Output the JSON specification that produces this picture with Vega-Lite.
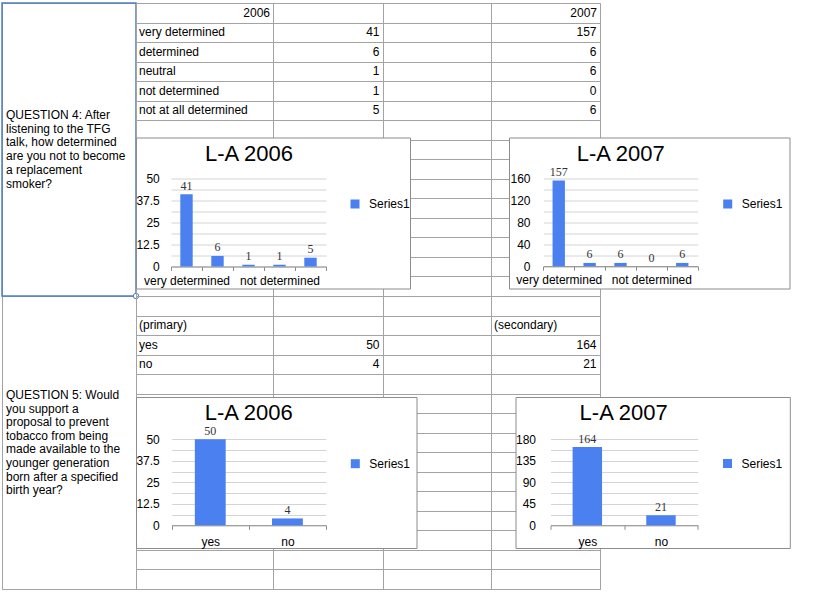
{
  "$schema": "https://vega.github.io/schema/vega-lite/v6.json",
  "padding": {"left": 0, "top": 1, "right": 0, "bottom": 0},
  "background": "white",
  "config": {
    "font": "Liberation Sans",
    "view": {"stroke": "#a3a3a3", "strokeWidth": 1},
    "axis": {"labelFont": "Liberation Sans"},
    "legend": {"labelFont": "Liberation Sans"},
    "text": {"font": "Liberation Sans", "fontSize": 12, "color": "black"}
  },
  "datasets": {
    "survey": [
      {"question": "Q4", "answer": "very determined", "v2006": 41, "v2007": 157},
      {"question": "Q4", "answer": "determined", "v2006": 6, "v2007": 6},
      {"question": "Q4", "answer": "neutral", "v2006": 1, "v2007": 6},
      {"question": "Q4", "answer": "not determined", "v2006": 1, "v2007": 0},
      {"question": "Q4", "answer": "not at all determined", "v2006": 5, "v2007": 6},
      {"question": "Q5", "answer": "yes", "v2006": 50, "v2007": 164},
      {"question": "Q5", "answer": "no", "v2006": 4, "v2007": 21}
    ],
    "headers": [
      {"answer": "hdr4", "B": "2006", "E": "2007"},
      {"answer": "hdr5", "B": "(primary)", "E": "(secondary)"}
    ],
    "questions": [
      {"cell": "Q4", "text": "QUESTION 4: After\nlistening to the TFG\ntalk, how determined\nare you not to become\na replacement\nsmoker?"},
      {"cell": "Q5", "text": "QUESTION 5: Would\nyou support a\nproposal to prevent\ntobacco from being\nmade available to the\nyounger generation\nborn after a specified\nbirth year?"}
    ]
  },
  "bounds": "flush",
  "spacing": 0,
  "resolve": {"scale": {"color": "independent"}, "legend": {"color": "independent"}},
  "hconcat": [
    {
      "width": 134,
      "height": 586,
      "data": {"name": "questions"},
      "encoding": {
        "y": {"field": "cell", "type": "nominal", "sort": null,
          "scale": {"domain": ["Q4", "Q5"], "paddingInner": 0, "paddingOuter": 0},
          "axis": {"title": null, "grid": true, "tickBand": "extent", "labels": false, "ticks": false, "domain": false, "gridColor": "#a3a3a3"}}
      },
      "layer": [
        {
          "transform": [{"filter": "datum.cell == 'Q4'"}],
          "mark": {"type": "text", "align": "left", "baseline": "middle", "lineBreak": "\n", "lineHeight": 13.7, "fontSize": 12, "dx": 4, "dy": -34.5, "color": "black"},
          "encoding": {"x": {"value": 0}, "text": {"field": "text", "type": "nominal"}}
        },
        {
          "transform": [{"filter": "datum.cell == 'Q5'"}],
          "mark": {"type": "text", "align": "left", "baseline": "middle", "lineBreak": "\n", "lineHeight": 13.6, "fontSize": 12, "dx": 4, "dy": -47.5, "color": "black"},
          "encoding": {"x": {"value": 0}, "text": {"field": "text", "type": "nominal"}}
        },
        {
          "transform": [{"filter": "datum.cell == 'Q4'"}],
          "mark": {"type": "rect", "fill": "transparent", "stroke": "#4f7fc4", "strokeWidth": 1.5},
          "encoding": {"x": {"value": 0}, "x2": {"value": "width"}}
        },
        {
          "transform": [{"filter": "datum.cell == 'Q4'"}],
          "mark": {"type": "point", "shape": "circle", "filled": true, "fill": "white", "stroke": "#4f7fc4", "strokeWidth": 1, "size": 30, "opacity": 1},
          "encoding": {"x": {"value": "width"}, "y": {"field": "cell", "type": "nominal", "bandPosition": 1}}
        }
      ]
    },
    {
      "bounds": "flush",
      "spacing": 134.5,
      "resolve": {"scale": {"color": "independent"}, "legend": {"color": "independent"}},
      "vconcat": [
        {
          "bounds": "flush",
          "spacing": 0,
          "hconcat": [
            {
              "width": 137,
              "height": 586,
              "encoding": {
                "y": {"field": "answer", "type": "nominal", "sort": null,
                  "scale": {"domain": ["hdr4","very determined","determined","neutral","not determined","not at all determined","r7","r8","r9","r10","r11","r12","r13","r14","r15","r16","hdr5","yes","no","r20","r21","r22","r23","r24","r25","r26","r27","r28","r29","r30"], "paddingInner": 0, "paddingOuter": 0},
                  "axis": {"title": null, "grid": true, "tickBand": "extent", "labels": false, "ticks": false, "domain": false, "gridColor": "#a3a3a3"}}
              },
              "layer": [
                {
                  "data": {"name": "survey"},
                  "mark": {"type": "text", "align": "left", "baseline": "middle", "dx": 3},
                  "encoding": {"x": {"value": 0}, "text": {"field": "answer", "type": "nominal"}}
                },
                {
                  "data": {"name": "headers"},
                  "transform": [{"filter": "datum.answer == 'hdr4'"}],
                  "mark": {"type": "text", "align": "right", "baseline": "middle", "dx": -3},
                  "encoding": {"x": {"value": "width"}, "text": {"field": "B", "type": "nominal"}}
                },
                {
                  "data": {"name": "headers"},
                  "transform": [{"filter": "datum.answer == 'hdr5'"}],
                  "mark": {"type": "text", "align": "left", "baseline": "middle", "dx": 3},
                  "encoding": {"x": {"value": 0}, "text": {"field": "B", "type": "nominal"}}
                }
              ]
            },
            {
              "width": 110,
              "height": 586,
              "data": {"name": "survey"},
              "mark": {"type": "text", "align": "right", "baseline": "middle", "dx": -3.5},
              "encoding": {
                "y": {"field": "answer", "type": "nominal", "sort": null,
                  "scale": {"domain": ["hdr4","very determined","determined","neutral","not determined","not at all determined","r7","r8","r9","r10","r11","r12","r13","r14","r15","r16","hdr5","yes","no","r20","r21","r22","r23","r24","r25","r26","r27","r28","r29","r30"], "paddingInner": 0, "paddingOuter": 0},
                  "axis": {"title": null, "grid": true, "tickBand": "extent", "labels": false, "ticks": false, "domain": false, "gridColor": "#a3a3a3"}},
                "x": {"value": "width"},
                "text": {"field": "v2006", "type": "quantitative", "format": "d"}
              }
            },
            {
              "width": 108,
              "height": 586,
              "data": {"name": "headers"},
              "mark": {"type": "text", "baseline": "middle"},
              "encoding": {
                "y": {"field": "answer", "type": "nominal", "sort": null,
                  "scale": {"domain": ["hdr4","very determined","determined","neutral","not determined","not at all determined","r7","r8","r9","r10","r11","r12","r13","r14","r15","r16","hdr5","yes","no","r20","r21","r22","r23","r24","r25","r26","r27","r28","r29","r30"], "paddingInner": 0, "paddingOuter": 0},
                  "axis": {"title": null, "grid": true, "tickBand": "extent", "labels": false, "ticks": false, "domain": false, "gridColor": "#a3a3a3"}},
                "text": {"value": ""}
              }
            },
            {
              "width": 109,
              "height": 586,
              "encoding": {
                "y": {"field": "answer", "type": "nominal", "sort": null,
                  "scale": {"domain": ["hdr4","very determined","determined","neutral","not determined","not at all determined","r7","r8","r9","r10","r11","r12","r13","r14","r15","r16","hdr5","yes","no","r20","r21","r22","r23","r24","r25","r26","r27","r28","r29","r30"], "paddingInner": 0, "paddingOuter": 0},
                  "axis": {"title": null, "grid": true, "tickBand": "extent", "labels": false, "ticks": false, "domain": false, "gridColor": "#a3a3a3"}}
              },
              "layer": [
                {
                  "data": {"name": "survey"},
                  "mark": {"type": "text", "align": "right", "baseline": "middle", "dx": -3.5},
                  "encoding": {"x": {"value": "width"}, "text": {"field": "v2007", "type": "quantitative", "format": "d"}}
                },
                {
                  "data": {"name": "headers"},
                  "transform": [{"filter": "datum.answer == 'hdr4'"}],
                  "mark": {"type": "text", "align": "right", "baseline": "middle", "dx": -3},
                  "encoding": {"x": {"value": "width"}, "text": {"field": "E", "type": "nominal"}}
                },
                {
                  "data": {"name": "headers"},
                  "transform": [{"filter": "datum.answer == 'hdr5'"}],
                  "mark": {"type": "text", "align": "left", "baseline": "middle", "dx": 3},
                  "encoding": {"x": {"value": 0}, "text": {"field": "E", "type": "nominal"}}
                }
              ]
            }
          ]
        },
        {
          "bounds": "flush",
          "spacing": 259.5,
          "resolve": {"scale": {"color": "independent"}, "legend": {"color": "independent"}},
          "vconcat": [
            {
              "bounds": "flush",
              "spacing": 99,
              "resolve": {"scale": {"color": "independent"}, "legend": {"color": "independent"}},
              "hconcat": [
                {
                  "width": 274,
                  "height": 151,
                  "view": {"stroke": "#8c8c8c", "strokeWidth": 1, "fill": "white"},
                  "title": {"text": "L-A 2006", "font": "Liberation Sans", "fontSize": 22, "fontWeight": "normal", "color": "black", "anchor": "middle", "frame": "group", "baseline": "alphabetic", "offset": -45, "dx": -24},
                  "data": {"name": "survey"},
                  "transform": [{"filter": "datum.question == 'Q4'"}],
                  "encoding": {
                    "x": {"field": "answer", "type": "nominal", "sort": null,
                      "scale": {"domain": ["very determined","determined","neutral","not determined","not at all determined"], "range": [35, 190], "paddingInner": 0, "paddingOuter": 0},
                      "axis": {"title": null, "orient": "bottom", "offset": -22, "domain": true, "domainColor": "#8c8c8c", "ticks": true, "tickBand": "extent", "tickSize": 4, "tickColor": "#8c8c8c", "grid": false, "labelAngle": 0, "labelPadding": 4.5, "labelOverlap": false, "labelBound": false, "labelFontSize": 12, "labelColor": "black",
                        "labelExpr": "datum.value == 'very determined' || datum.value == 'not determined' ? datum.value : ''"}},
                    "y": {"field": "v2006", "type": "quantitative",
                      "scale": {"domain": [0, 50], "range": [129, 41], "nice": false, "zero": false},
                      "axis": {"title": null, "values": [0, 6.25, 12.5, 18.75, 25, 31.25, 37.5, 43.75, 50], "grid": true, "gridColor": "#d4d4d4", "domain": false, "ticks": false, "labelPadding": 2, "offset": -25.3, "labelFlush": false, "labelOverlap": false, "labelFontSize": 12, "labelColor": "black",
                        "labelExpr": "datum.value % 12.5 == 0 ? '' + datum.value : ''"}}
                  },
                  "layer": [
                    {
                      "mark": {"type": "bar", "width": {"band": 0.4}},
                      "encoding": {
                        "color": {"datum": "Series1", "type": "nominal", "scale": {"range": ["#4a80ef"]},
                          "legend": {"title": null, "orient": "none", "legendX": 213, "legendY": 60.5, "symbolType": "square", "symbolSize": 81, "symbolStrokeWidth": 0, "labelFontSize": 12, "labelColor": "black", "labelOffset": 8, "padding": 0}}
                      }
                    },
                    {
                      "mark": {"type": "text", "baseline": "alphabetic", "dy": -4.5, "font": "Liberation Serif", "fontSize": 12, "color": "#333333"},
                      "encoding": {"text": {"field": "v2006", "type": "quantitative", "format": "d"}}
                    }
                  ]
                },
                {
                  "width": 280.5,
                  "height": 151,
                  "view": {"stroke": "#8c8c8c", "strokeWidth": 1, "fill": "white"},
                  "title": {"text": "L-A 2007", "font": "Liberation Sans", "fontSize": 22, "fontWeight": "normal", "color": "black", "anchor": "middle", "frame": "group", "baseline": "alphabetic", "offset": -45, "dx": -28.5},
                  "data": {"name": "survey"},
                  "transform": [{"filter": "datum.question == 'Q4'"}],
                  "encoding": {
                    "x": {"field": "answer", "type": "nominal", "sort": null,
                      "scale": {"domain": ["very determined","determined","neutral","not determined","not at all determined"], "range": [34.3, 188.7], "paddingInner": 0, "paddingOuter": 0},
                      "axis": {"title": null, "orient": "bottom", "offset": -22.3, "domain": true, "domainColor": "#8c8c8c", "ticks": true, "tickBand": "extent", "tickSize": 4, "tickColor": "#8c8c8c", "grid": false, "labelAngle": 0, "labelPadding": 4.5, "labelOverlap": false, "labelBound": false, "labelFontSize": 12, "labelColor": "black",
                        "labelExpr": "datum.value == 'very determined' || datum.value == 'not determined' ? datum.value : ''"}},
                    "y": {"field": "v2007", "type": "quantitative",
                      "scale": {"domain": [0, 160], "range": [128.7, 41.3], "nice": false, "zero": false},
                      "axis": {"title": null, "values": [0, 20, 40, 60, 80, 100, 120, 140, 160], "grid": true, "gridColor": "#d4d4d4", "domain": false, "ticks": false, "labelPadding": 2, "offset": -23, "labelFlush": false, "labelOverlap": false, "labelFontSize": 12, "labelColor": "black",
                        "labelExpr": "datum.value % 40 == 0 ? '' + datum.value : ''"}}
                  },
                  "layer": [
                    {
                      "mark": {"type": "bar", "width": {"band": 0.4}},
                      "encoding": {
                        "color": {"datum": "Series1", "type": "nominal", "scale": {"range": ["#4a80ef"]},
                          "legend": {"title": null, "orient": "none", "legendX": 212.7, "legendY": 60.5, "symbolType": "square", "symbolSize": 81, "symbolStrokeWidth": 0, "labelFontSize": 12, "labelColor": "black", "labelOffset": 8, "padding": 0}}
                      }
                    },
                    {
                      "mark": {"type": "text", "baseline": "alphabetic", "dy": -4.5, "font": "Liberation Serif", "fontSize": 12, "color": "#333333"},
                      "encoding": {"text": {"field": "v2007", "type": "quantitative", "format": "d"}}
                    }
                  ]
                }
              ]
            },
            {
              "bounds": "flush",
              "spacing": 98.5,
              "resolve": {"scale": {"color": "independent"}, "legend": {"color": "independent"}},
              "hconcat": [
                {
                  "width": 280.5,
                  "height": 151,
                  "view": {"stroke": "#8c8c8c", "strokeWidth": 1, "fill": "white"},
                  "title": {"text": "L-A 2006", "font": "Liberation Sans", "fontSize": 22, "fontWeight": "normal", "color": "black", "anchor": "middle", "frame": "group", "baseline": "alphabetic", "offset": -45, "dx": -27.5},
                  "data": {"name": "survey"},
                  "transform": [{"filter": "datum.question == 'Q5'"}],
                  "encoding": {
                    "x": {"field": "answer", "type": "nominal", "sort": null,
                      "scale": {"domain": ["yes", "no"], "range": [35.7, 190], "paddingInner": 0, "paddingOuter": 0},
                      "axis": {"title": null, "orient": "bottom", "offset": -22.7, "domain": true, "domainColor": "#8c8c8c", "ticks": true, "tickBand": "extent", "tickSize": 4, "tickColor": "#8c8c8c", "grid": false, "labelAngle": 0, "labelPadding": 7, "labelOverlap": false, "labelBound": false, "labelFontSize": 12, "labelColor": "black"}},
                    "y": {"field": "v2006", "type": "quantitative",
                      "scale": {"domain": [0, 50], "range": [128.3, 42.3], "nice": false, "zero": false},
                      "axis": {"title": null, "values": [0, 6.25, 12.5, 18.75, 25, 31.25, 37.5, 43.75, 50], "grid": true, "gridColor": "#d4d4d4", "domain": false, "ticks": false, "labelPadding": 2, "offset": -25.3, "labelFlush": false, "labelOverlap": false, "labelFontSize": 12, "labelColor": "black",
                        "labelExpr": "datum.value % 12.5 == 0 ? '' + datum.value : ''"}}
                  },
                  "layer": [
                    {
                      "mark": {"type": "bar", "width": {"band": 0.4}},
                      "encoding": {
                        "color": {"datum": "Series1", "type": "nominal", "scale": {"range": ["#4a80ef"]},
                          "legend": {"title": null, "orient": "none", "legendX": 213.3, "legendY": 60.7, "symbolType": "square", "symbolSize": 81, "symbolStrokeWidth": 0, "labelFontSize": 12, "labelColor": "black", "labelOffset": 8, "padding": 0}}
                      }
                    },
                    {
                      "mark": {"type": "text", "baseline": "alphabetic", "dy": -4, "font": "Liberation Serif", "fontSize": 12, "color": "#333333"},
                      "encoding": {"text": {"field": "v2006", "type": "quantitative", "format": "d"}}
                    }
                  ]
                },
                {
                  "width": 274.3,
                  "height": 151,
                  "view": {"stroke": "#8c8c8c", "strokeWidth": 1, "fill": "white"},
                  "title": {"text": "L-A 2007", "font": "Liberation Sans", "fontSize": 22, "fontWeight": "normal", "color": "black", "anchor": "middle", "frame": "group", "baseline": "alphabetic", "offset": -45, "dx": -29},
                  "data": {"name": "survey"},
                  "transform": [{"filter": "datum.question == 'Q5'"}],
                  "encoding": {
                    "x": {"field": "answer", "type": "nominal", "sort": null,
                      "scale": {"domain": ["yes", "no"], "range": [35, 182.3], "paddingInner": 0, "paddingOuter": 0},
                      "axis": {"title": null, "orient": "bottom", "offset": -22.7, "domain": true, "domainColor": "#8c8c8c", "ticks": true, "tickBand": "extent", "tickSize": 4, "tickColor": "#8c8c8c", "grid": false, "labelAngle": 0, "labelPadding": 7, "labelOverlap": false, "labelBound": false, "labelFontSize": 12, "labelColor": "black"}},
                    "y": {"field": "v2007", "type": "quantitative",
                      "scale": {"domain": [0, 180], "range": [128.3, 42.3], "nice": false, "zero": false},
                      "axis": {"title": null, "values": [0, 22.5, 45, 67.5, 90, 112.5, 135, 157.5, 180], "grid": true, "gridColor": "#d4d4d4", "domain": false, "ticks": false, "labelPadding": 2, "offset": -22, "labelFlush": false, "labelOverlap": false, "labelFontSize": 12, "labelColor": "black",
                        "labelExpr": "datum.value % 45 == 0 ? '' + datum.value : ''"}}
                  },
                  "layer": [
                    {
                      "mark": {"type": "bar", "width": {"band": 0.4}},
                      "encoding": {
                        "color": {"datum": "Series1", "type": "nominal", "scale": {"range": ["#4a80ef"]},
                          "legend": {"title": null, "orient": "none", "legendX": 206, "legendY": 60.5, "symbolType": "square", "symbolSize": 81, "symbolStrokeWidth": 0, "labelFontSize": 12, "labelColor": "black", "labelOffset": 8, "padding": 0}}
                      }
                    },
                    {
                      "mark": {"type": "text", "baseline": "alphabetic", "dy": -4, "font": "Liberation Serif", "fontSize": 12, "color": "#333333"},
                      "encoding": {"text": {"field": "v2007", "type": "quantitative", "format": "d"}}
                    }
                  ]
                }
              ]
            }
          ]
        }
      ]
    }
  ]
}
